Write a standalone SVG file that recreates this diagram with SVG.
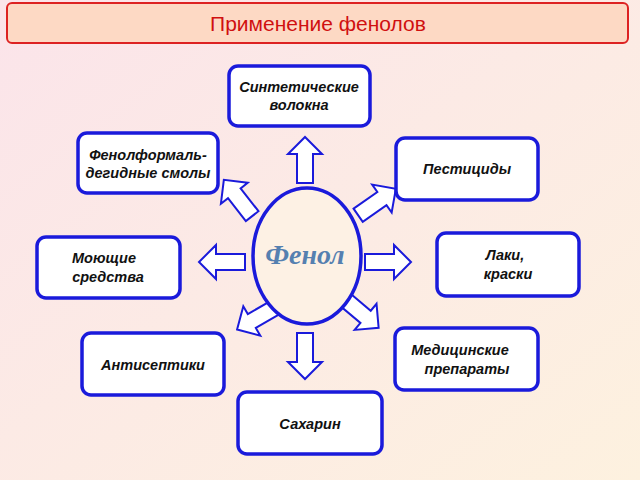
<svg xmlns="http://www.w3.org/2000/svg" width="640" height="480" viewBox="0 0 640 480">
<defs>
<linearGradient id="bg" x1="0" y1="0" x2="1" y2="1"><stop offset="0" stop-color="#fbe4ea"/><stop offset="1" stop-color="#fdf1df"/></linearGradient>
<path id="arr" d="M-23,-8 L6,-8 L6,-17 L23,0 L6,17 L6,8 L-23,8 Z" fill="#fff" stroke="#1a1adb" stroke-width="2" stroke-linejoin="miter"/>
</defs>
<style>
.n rect{fill:#fff;stroke:#1a1adb;stroke-width:3.5}
.n text{font-family:"Liberation Sans",Arial,sans-serif;font-size:14.5px;font-weight:bold;font-style:italic;fill:#111;text-anchor:middle}
</style>
<rect width="640" height="480" fill="url(#bg)"/>
<g id="title"><rect x="7" y="3" width="621" height="40" rx="5" fill="#fdd9c4" stroke="#d22" stroke-width="2"/>
<text x="318" y="31" font-family="Liberation Sans,Arial,sans-serif" font-size="21" fill="#d01010" text-anchor="middle">Применение фенолов</text></g>
<g id="connectors">
<use href="#arr" transform="translate(305,160) rotate(-90)"/>
<use href="#arr" transform="translate(305,356) rotate(90)"/>
<use href="#arr" transform="translate(222,262) rotate(180)"/>
<use href="#arr" transform="translate(388,262)"/>
<use href="#arr" transform="translate(238,198) rotate(-128)"/>
<use href="#arr" transform="translate(377,202) rotate(-35)"/>
<use href="#arr" transform="translate(257,318) rotate(150)"/>
<use href="#arr" transform="translate(361,313) rotate(40)"/>
</g>
<g id="phenol"><ellipse cx="307" cy="256" rx="54" ry="68" fill="#fdf1e4" stroke="#1a1adb" stroke-width="3.5"/>
<text x="305" y="264" font-family="Liberation Serif,serif" font-size="28" font-weight="bold" font-style="italic" fill="#5580b0" text-anchor="middle">Фенол</text></g>
<g id="n1" class="n"><rect x="229" y="66" width="141" height="60" rx="9"/><text x="299" y="92">Синтетические</text><text x="299" y="110">волокна</text></g>
<g id="n2" class="n"><rect x="78" y="133" width="140" height="60" rx="9"/><text x="148" y="160">Фенолформаль-</text><text x="148" y="178">дегидные смолы</text></g>
<g id="n3" class="n"><rect x="396" y="138" width="142" height="62" rx="9"/><text x="467" y="174">Пестициды</text></g>
<g id="n4" class="n"><rect x="37" y="237" width="143" height="61" rx="9"/><text x="104" y="263">Моющие</text><text x="108" y="282">средства</text></g>
<g id="n5" class="n"><rect x="437" y="233" width="142" height="63" rx="9"/><text x="505" y="260">Лаки,</text><text x="508" y="279">краски</text></g>
<g id="n6" class="n"><rect x="82" y="333" width="142" height="62" rx="9"/><text x="153" y="370">Антисептики</text></g>
<g id="n7" class="n"><rect x="395" y="328" width="143" height="62" rx="9"/><text x="460" y="355">Медицинские</text><text x="467" y="374">препараты</text></g>
<g id="n8" class="n"><rect x="238" y="392" width="144" height="62" rx="9"/><text x="310" y="429">Сахарин</text></g>
</svg>
